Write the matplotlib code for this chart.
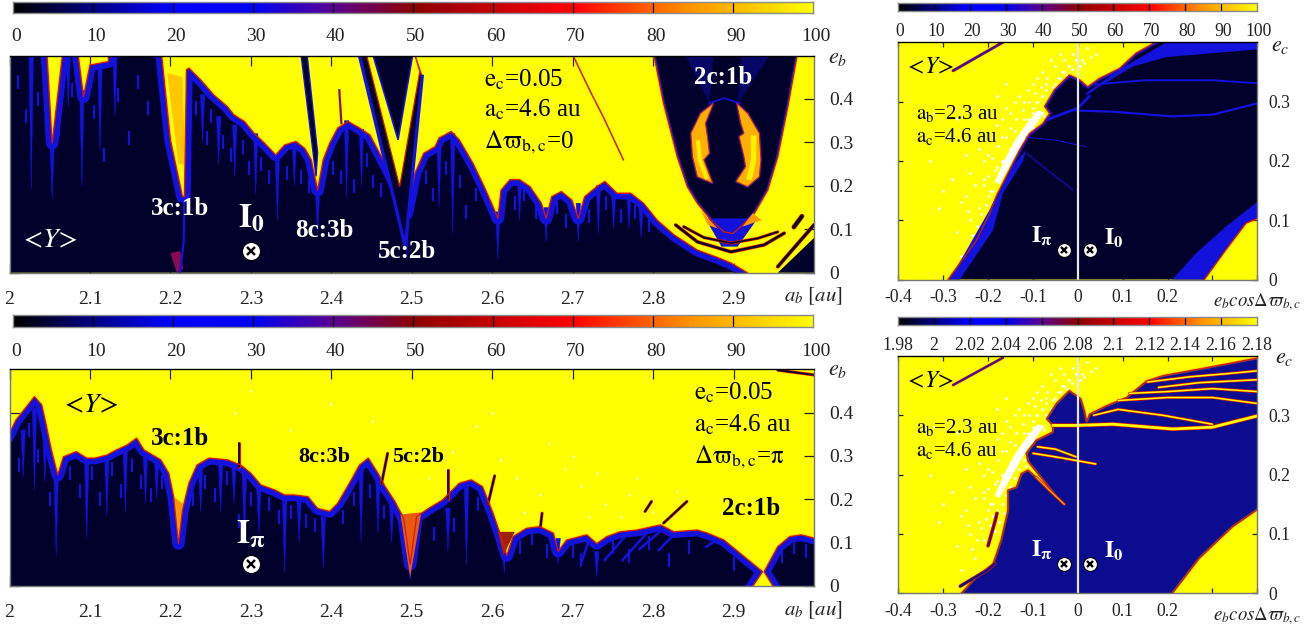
"""Stability maps of the <Y> indicator, two wide panels and two small ones."""
import matplotlib
matplotlib.use("Agg")
import matplotlib.pyplot as plt
import numpy as np
from matplotlib.colors import LinearSegmentedColormap
from matplotlib.transforms import ScaledTranslation

W, H = 1315, 627
NAVY = "#00002a"
BLUE = "#1212dc"
MIDBLUE = "#0c0c90"
RED = "#d81a00"
ORANGE = "#ff9a00"
YELLOW = "#ffff00"

plt.rcParams["font.family"] = ["Liberation Serif", "DejaVu Serif"]
plt.rcParams["mathtext.fontset"] = "stix"

CMAP_VALUES = [0, 10, 20, 30, 40, 50, 70, 85, 100]
CMAP_COLORS = ["#000000", "#000085", "#0000ff", "#0000f0", "#5a0090",
               "#8c0000", "#ff0000", "#ff9600", "#ffff00"]
CBAR_PCT = [0, 10, 20, 30, 40, 50, 60, 70, 80, 90, 100]
CBAR_D_LABELS = ["1.98", "2", "2.02", "2.04", "2.06", "2.08", "2.1", "2.12",
                 "2.14", "2.16", "2.18"]
A_TICKS = [2, 2.1, 2.2, 2.3, 2.4, 2.5, 2.6, 2.7, 2.8, 2.9]
EB_TICKS = [0, 0.1, 0.2, 0.3, 0.4]
ECOS_TICKS = [-0.4, -0.3, -0.2, -0.1, 0, 0.1, 0.2, 0.3, 0.4]
ECOS_LABELS = ["-0.4", "-0.3", "-0.2", "-0.1", "0", "0.1", "0.2", "", ""]
EC_TICKS = [0, 0.1, 0.2, 0.3]

# panel A, edge of the regular region
A_EDGE_A = [2, 2.046, 2.053, 2.067, 2.084, 2.092, 2.1, 2.123, 2.123, 2.188, 2.2, 2.215,
            2.2175, 2.22, 2.223, 2.2375, 2.254, 2.271, 2.279, 2.292, 2.304, 2.317, 2.331,
            2.342, 2.356, 2.367, 2.375, 2.383, 2.39, 2.398, 2.408, 2.421, 2.435, 2.448,
            2.46, 2.475, 2.494, 2.504, 2.515, 2.529, 2.534, 2.549, 2.559, 2.576, 2.59,
            2.601, 2.607, 2.611, 2.622, 2.634, 2.647, 2.661, 2.667, 2.674, 2.686, 2.699,
            2.707, 2.715, 2.73, 2.74, 2.755, 2.772, 2.788, 2.805, 2.826, 2.855, 2.88,
            2.897, 2.917]
A_EDGE_E = [0.52, 0.52, 0.298, 0.52, 0.52, 0.405, 0.478, 0.486, 0.52, 0.52, 0.306, 0.175,
            0.175, 0.467, 0.471, 0.444, 0.409, 0.382, 0.363, 0.348, 0.321, 0.298, 0.271,
            0.294, 0.302, 0.286, 0.26, 0.19, 0.26, 0.298, 0.333, 0.348, 0.333, 0.317,
            0.275, 0.221, 0.137, 0.229, 0.275, 0.29, 0.31, 0.325, 0.306, 0.252, 0.198,
            0.152, 0.125, 0.19, 0.214, 0.214, 0.198, 0.16, 0.125, 0.175, 0.187, 0.167,
            0.125, 0.175, 0.198, 0.21, 0.183, 0.183, 0.16, 0.121, 0.087, 0.052, 0.035,
            0.022, 0]
A_V_OUTER_A = [2.435, 2.492, 2.513, 2.504]
A_V_OUTER_E = [0.5, 0.06, 0.452, 0.5]
A_V_MID_A = [2.444, 2.485, 2.51, 2.504]
A_V_MID_E = [0.5, 0.198, 0.463, 0.5]
A_V_INNER_A = [2.452, 2.483, 2.501]
A_V_INNER_E = [0.5, 0.306, 0.5]
A_STRIP_A = [2.3625, 2.37, 2.383, 2.381]
A_STRIP_E = [0.5, 0.5, 0.276, 0.222]
A_U_A = [2.8, 2.813, 2.83, 2.8425, 2.855, 2.872, 2.888, 2.899, 2.909, 2.926, 2.9425,
         2.955, 2.9675, 2.98]
A_U_E = [0.51, 0.39, 0.267, 0.198, 0.16, 0.121, 0.094, 0.09, 0.106, 0.137, 0.19, 0.267,
         0.382, 0.51]
A_CRES_L_A = [2.875, 2.859, 2.847, 2.849, 2.855, 2.874, 2.863, 2.87, 2.8675, 2.865]
A_CRES_L_E = [0.39, 0.367, 0.321, 0.267, 0.221, 0.206, 0.26, 0.275, 0.313, 0.344]
A_CRES_R_A = [2.904, 2.9175, 2.932, 2.934, 2.932, 2.9175, 2.903, 2.915, 2.913, 2.907,
              2.913, 2.909]
A_CRES_R_E = [0.39, 0.367, 0.321, 0.26, 0.221, 0.198, 0.21, 0.244, 0.267, 0.313, 0.321,
              0.344]
A_ARC1_A = [2.828, 2.855, 2.897, 2.938, 2.963]
A_ARC1_E = [0.11, 0.071, 0.048, 0.064, 0.091]
A_ARC2_A = [2.838, 2.863, 2.897, 2.93, 2.955]
A_ARC2_E = [0.106, 0.081, 0.068, 0.079, 0.094]
A_STREAK_A = [2.701, 2.722, 2.738, 2.763]
A_STREAK_E = [0.498, 0.417, 0.359, 0.26]
A_SPIKE_A = [2.027, 2.053, 2.073, 2.09, 2.1125, 2.131, 2.24, 2.26, 2.28, 2.306, 2.333,
             2.354, 2.383, 2.419, 2.4375, 2.494, 2.534, 2.551, 2.607, 2.634, 2.667,
             2.707, 2.732, 2.751, 2.77, 2.785]
A_SPIKE_TOP = [0.5, 0.3, 0.5, 0.42, 0.48, 0.5, 0.41, 0.36, 0.34, 0.32, 0.27, 0.3, 0.19,
               0.35, 0.33, 0.14, 0.3, 0.32, 0.14, 0.21, 0.15, 0.16, 0.2, 0.18, 0.18, 0.15]
A_SPIKE_BOT = [0.19, 0.17, 0.38, 0.2, 0.28, 0.36, 0.3, 0.25, 0.22, 0.18, 0.12, 0.2, 0.09,
               0.17, 0.2, 0.03, 0.15, 0.09, 0.03, 0.12, 0.07, 0.07, 0.09, 0.1, 0.1, 0.08]
A_DASH_A = [2.01, 2.02, 2.035, 2.062, 2.078, 2.105, 2.118, 2.135, 2.148, 2.16, 2.172, 2.232,
            2.245, 2.25, 2.265, 2.275, 2.29, 2.298, 2.312, 2.322, 2.345, 2.362, 2.372,
            2.402, 2.412, 2.428, 2.444, 2.452, 2.462, 2.518, 2.526, 2.542, 2.56, 2.568,
            2.58, 2.628, 2.64, 2.655, 2.68, 2.692, 2.72, 2.742, 2.76, 2.778, 2.795]
A_DASH_E = [0.44, 0.36, 0.4, 0.33, 0.42, 0.37, 0.27, 0.41, 0.31, 0.44, 0.38, 0.38, 0.31,
            0.36, 0.3, 0.27, 0.29, 0.24, 0.25, 0.22, 0.23, 0.22, 0.2, 0.24, 0.22, 0.2,
            0.26, 0.21, 0.19, 0.22, 0.18, 0.24, 0.21, 0.14, 0.18, 0.16, 0.18, 0.14, 0.15,
            0.12, 0.13, 0.16, 0.13, 0.14, 0.11]

# panel C
C_EDGE_A = [2, 2.008, 2.023, 2.031, 2.04, 2.046, 2.052, 2.06, 2.067, 2.083, 2.096, 2.106,
            2.121, 2.133, 2.146, 2.158, 2.167, 2.188, 2.198, 2.204, 2.21, 2.215, 2.223,
            2.233, 2.248, 2.271, 2.2875, 2.3, 2.3125, 2.329, 2.342, 2.354, 2.371, 2.383,
            2.398, 2.408, 2.425, 2.435, 2.446, 2.458, 2.467, 2.479, 2.49, 2.498, 2.506,
            2.521, 2.538, 2.559, 2.574, 2.588, 2.601, 2.611, 2.618, 2.626, 2.6425, 2.659,
            2.676, 2.682, 2.6925, 2.7175, 2.73, 2.7425, 2.759, 2.78, 2.809, 2.826, 2.855,
            2.8675, 2.888, 2.913, 2.936, 2.924]
C_EDGE_E = [0.352, 0.383, 0.418, 0.437, 0.418, 0.368, 0.314, 0.256, 0.298, 0.31, 0.295,
            0.295, 0.302, 0.314, 0.325, 0.341, 0.314, 0.291, 0.26, 0.206, 0.098, 0.175,
            0.237, 0.279, 0.295, 0.291, 0.279, 0.26, 0.233, 0.222, 0.21, 0.21, 0.206,
            0.179, 0.172, 0.191, 0.245, 0.279, 0.295, 0.26, 0.229, 0.195, 0.156, 0.05,
            0.16, 0.179, 0.198, 0.237, 0.245, 0.229, 0.168, 0.114, 0.07, 0.114, 0.133,
            0.137, 0.122, 0.08, 0.106, 0.118, 0.098, 0.114, 0.125, 0.129, 0.141, 0.125,
            0.129, 0.122, 0.106, 0.068, 0.033, 0]
C_EDGE2_A = [2.949, 2.938, 2.955, 2.97, 2.984, 3.01]
C_EDGE2_E = [0, 0.033, 0.091, 0.114, 0.118, 0.106]
C_V_A = [2.486, 2.498, 2.512]
C_V_E = [0.165, 0.02, 0.17]
C_TIP_A = [2.204, 2.21, 2.216]
C_TIP_E = [0.206, 0.098, 0.19]
C_SPIKE_A = [2.017, 2.031, 2.044, 2.058, 2.096, 2.121, 2.144, 2.169, 2.183, 2.2375, 2.2625,
             2.279, 2.292, 2.31, 2.342, 2.36, 2.39, 2.437, 2.458, 2.475, 2.498, 2.545,
             2.568, 2.615, 2.682, 2.73]
C_SPIKE_TOP = [0.36, 0.41, 0.35, 0.25, 0.29, 0.3, 0.32, 0.3, 0.29, 0.27, 0.28, 0.28, 0.26,
               0.23, 0.2, 0.2, 0.16, 0.27, 0.24, 0.19, 0.05, 0.18, 0.23, 0.1, 0.11, 0.08]
C_SPIKE_BOT = [0.25, 0.22, 0.24, 0.07, 0.11, 0.16, 0.17, 0.19, 0.2, 0.17, 0.17, 0.19, 0.1,
               0.12, 0.03, 0.1, 0.04, 0.1, 0.12, 0.1, 0.015, 0.08, 0.05, 0.03, 0.05, 0.02]
C_DASH_A = [2.012, 2.024, 2.036, 2.05, 2.075, 2.088, 2.103, 2.112, 2.128, 2.138, 2.152, 2.163,
            2.176, 2.19, 2.228, 2.243, 2.255, 2.27, 2.285, 2.3, 2.322, 2.335, 2.35, 2.368,
            2.38, 2.415, 2.428, 2.448, 2.465, 2.528, 2.553, 2.582, 2.635, 2.65, 2.668,
            2.7, 2.71, 2.75, 2.77, 2.795, 2.82, 2.845, 2.9, 2.96, 2.975, 2.99]
C_DASH_E = [0.28, 0.36, 0.3, 0.2, 0.26, 0.22, 0.26, 0.2, 0.27, 0.22, 0.28, 0.24, 0.21,
            0.24, 0.2, 0.24, 0.21, 0.25, 0.15, 0.2, 0.19, 0.16, 0.17, 0.15, 0.14, 0.16,
            0.2, 0.22, 0.17, 0.12, 0.14, 0.19, 0.09, 0.11, 0.08, 0.08, 0.06, 0.09, 0.07,
            0.1, 0.06, 0.09, 0.05, 0.07, 0.09, 0.08]
C_FAN_A0 = [2.711, 2.74, 2.762, 2.783, 2.807, 2.866]
C_FAN_E0 = [0.055, 0.06, 0.06, 0.085, 0.083, 0.09]
C_FAN_A1 = [2.72, 2.77, 2.792, 2.808, 2.824, 2.878]
C_FAN_E1 = [0.105, 0.125, 0.122, 0.125, 0.115, 0.105]
C_STREAK_A0 = [2.285, 2.4625, 2.545, 2.595, 2.66, 2.79, 2.813, 2.955]
C_STREAK_E0 = [0.275, 0.237, 0.2, 0.191, 0.137, 0.172, 0.145, 0.498]
C_STREAK_A1 = [2.285, 2.47, 2.545, 2.603, 2.662, 2.798, 2.842, 3.0]
C_STREAK_E1 = [0.33, 0.306, 0.267, 0.254, 0.168, 0.195, 0.195, 0.487]
C_SPECK_A = [2.52, 2.55, 2.58, 2.61, 2.63, 2.66, 2.69, 2.71, 2.74, 2.77, 2.8, 2.83, 2.67, 2.7,
             2.73, 2.76, 2.64, 2.6, 2.45, 2.4, 2.35, 2.3, 2.28, 2.78, 2.72]
C_SPECK_E = [0.25, 0.31, 0.37, 0.29, 0.25, 0.21, 0.27, 0.23, 0.19, 0.21, 0.17, 0.22, 0.33,
             0.3, 0.26, 0.16, 0.17, 0.4, 0.38, 0.42, 0.36, 0.45, 0.4, 0.25, 0.16]

# panel B
B_EDGE_X = [-0.289, -0.226, -0.197, -0.182, -0.152, -0.13, -0.108, -0.078, -0.063, -0.074,
            -0.052, -0.019, 0.004, 0.022, 0.048, 0.093, 0.13, 0.197, 0.41, 0.41, 0.375,
            0.33, 0.282]
B_EDGE_Y = [0, 0.066, 0.111, 0.14, 0.185, 0.218, 0.246, 0.263, 0.28, 0.292, 0.32, 0.345,
            0.337, 0.325, 0.339, 0.356, 0.382, 0.41, 0.41, 0.106, 0.095, 0.05, 0]
B_BAND_R_X = [0.211, 0.263, 0.33, 0.4, 0.4, 0.375, 0.33, 0.282]
B_BAND_R_Y = [0, 0.044, 0.089, 0.131, 0.106, 0.095, 0.05, 0]
B_BAND_L_X = [-0.285, -0.197, -0.152, -0.115, -0.122, -0.167, -0.189, -0.263]
B_BAND_L_Y = [0, 0.117, 0.185, 0.218, 0.2, 0.145, 0.083, 0]
B_FAN_X = [0.019, 0.093, 0.197, 0.4, 0.4, 0.197, 0.122, 0.048, 0.019]
B_FAN_Y = [0.315, 0.354, 0.4, 0.4, 0.388, 0.375, 0.359, 0.325, 0.31]
B_LINE1_X = [-0.004, 0.078, 0.211, 0.3, 0.4]
B_LINE1_Y = [0.285, 0.283, 0.275, 0.278, 0.297]
B_LINE2_X = [0.04, 0.15, 0.3, 0.4]
B_LINE2_Y = [0.329, 0.336, 0.336, 0.331]
B_LINE3_X = [-0.07, 0.0, 0.026]
B_LINE3_Y = [0.269, 0.289, 0.309]
B_FAINT_X = [-0.115, -0.05, 0.019]
B_FAINT_Y = [0.24, 0.235, 0.224]
B_FAINT2_X = [-0.115, -0.011]
B_FAINT2_Y = [0.213, 0.151]
STREAK_X = [-0.278, -0.167]
STREAK_Y = [0.352, 0.4]
WHITE_X = [-0.175, -0.145, -0.115, -0.093, -0.075, -0.09, -0.115, -0.14, -0.165, -0.185]
WHITE_Y = [0.16, 0.2, 0.24, 0.262, 0.282, 0.285, 0.262, 0.235, 0.2, 0.165]
SPECK_X = [-0.33, -0.31, -0.29, -0.27, -0.28, -0.26, -0.25, -0.24, -0.23, -0.22, -0.21,
           -0.2, -0.19, -0.18, -0.17, -0.16, -0.15, -0.14, -0.13, -0.12, -0.11, -0.1,
           -0.09, -0.08, -0.07, -0.06, -0.05, -0.04, -0.03, -0.02, -0.01, 0.01, 0.02,
           -0.24, -0.22, -0.2, -0.18, -0.16, -0.14, -0.12, -0.1, -0.08, -0.06, -0.04,
           -0.25, -0.21, -0.19, -0.17, -0.15, -0.13, -0.11, -0.09, -0.07, -0.05, -0.03,
           -0.23, -0.21, -0.27, -0.2, -0.26, -0.18, -0.16, -0.3, -0.32,
           -0.215, -0.205, -0.195, -0.19, -0.185, -0.18, -0.175, -0.17, -0.165, -0.16,
           -0.155, -0.15, -0.145, -0.14, -0.135, -0.13, -0.125, -0.12, -0.115, -0.11,
           -0.105, -0.1, -0.095, -0.09, -0.085, -0.08, -0.075, -0.07, -0.065, -0.06,
           -0.21, -0.2, -0.195, -0.185, -0.175, -0.17, -0.16, -0.15, -0.14, -0.13,
           -0.12, -0.11, -0.1, -0.09, -0.08, -0.07, -0.055, -0.045, -0.035, -0.025,
           -0.02, -0.012, -0.005, 0.006, 0.014, 0.03, 0.04, -0.225, -0.235, -0.245,
           -0.192, -0.178, -0.168, -0.152, -0.138, -0.122, -0.108, -0.095, -0.083, -0.068]
SPECK_Y = [0.2, 0.12, 0.24, 0.08, 0.17, 0.13, 0.21, 0.1, 0.16, 0.12, 0.2, 0.14, 0.24,
           0.19, 0.27, 0.24, 0.28, 0.3, 0.31, 0.3, 0.32, 0.33, 0.34, 0.35, 0.33, 0.37,
           0.36, 0.38, 0.37, 0.36, 0.38, 0.37, 0.39, 0.18, 0.22, 0.21, 0.26, 0.29, 0.25,
           0.27, 0.28, 0.31, 0.31, 0.34, 0.14, 0.17, 0.15, 0.2, 0.22, 0.24, 0.26, 0.3,
           0.3, 0.33, 0.35, 0.06, 0.09, 0.27, 0.28, 0.04, 0.31, 0.33, 0.15, 0.28,
           0.11, 0.125, 0.115, 0.13, 0.105, 0.14, 0.12, 0.15, 0.135, 0.165, 0.145,
           0.18, 0.165, 0.195, 0.18, 0.21, 0.2, 0.225, 0.215, 0.24, 0.23, 0.255, 0.245,
           0.27, 0.26, 0.28, 0.275, 0.295, 0.29, 0.31, 0.16, 0.175, 0.15, 0.185, 0.17,
           0.2, 0.19, 0.215, 0.225, 0.24, 0.25, 0.27, 0.29, 0.3, 0.31, 0.32, 0.325,
           0.34, 0.35, 0.345, 0.36, 0.355, 0.37, 0.36, 0.365, 0.375, 0.38, 0.09, 0.075,
           0.115, 0.205, 0.225, 0.24, 0.255, 0.27, 0.285, 0.3, 0.315, 0.325, 0.34]

# panel D
D_EDGE_X = [-0.26, -0.226, -0.189, -0.171, -0.156, -0.156, -0.137, -0.126, -0.111, -0.093,
            -0.048, -0.111, -0.115, -0.093, -0.056, -0.056, -0.07, -0.048, -0.019, 0.007,
            0.015, 0.02, 0.026, 0.063, 0.108, 0.153, 0.19, 0.27, 0.41, 0.41, 0.345, 0.271,
            0.211]
D_EDGE_Y = [0, 0.028, 0.05, 0.09, 0.14, 0.174, 0.179, 0.202, 0.208, 0.196, 0.163, 0.222,
            0.236, 0.258, 0.272, 0.283, 0.294, 0.32, 0.342, 0.328, 0.308, 0.29, 0.302,
            0.316, 0.33, 0.358, 0.367, 0.378, 0.398, 0.146, 0.112, 0.059, 0]
D_BAND_X = [-0.056, -0.004, 0.078, 0.211, 0.3, 0.4]
D_BAND_Y = [0.283, 0.283, 0.285, 0.277, 0.28, 0.299]
D_RIB_X = [[0.035, 0.09, 0.19, 0.3], [0.09, 0.2, 0.3, 0.4], [0.115, 0.2, 0.3, 0.4],
           [0.155, 0.25, 0.33, 0.4], [-0.09, -0.05, -0.004], [-0.1, -0.05, 0.04],
           [0.18, 0.27, 0.4]]
D_RIB_Y = [[0.3, 0.31, 0.3, 0.285], [0.325, 0.33, 0.33, 0.32], [0.337, 0.34, 0.345, 0.34],
           [0.356, 0.365, 0.37, 0.375], [0.247, 0.243, 0.23], [0.236, 0.23, 0.218],
           [0.347, 0.355, 0.36]]
D_TAIL_X = [-0.093, -0.065, -0.03]
D_TAIL_Y = [0.196, 0.175, 0.15]
D_ISLAND_X = [-0.2, -0.185, -0.18]
D_ISLAND_Y = [0.08, 0.12, 0.135]
D_LOW_X = [-0.262, -0.2, -0.185]
D_LOW_Y = [0.012, 0.04, 0.05]


def add_axes(left, top, right, bottom):
    return fig.add_axes([left / W, 1 - bottom / H, (right - left) / W, (bottom - top) / H])


def region(ax, xs, ys, cx, cy, color=NAVY, band=9):
    poly = ax.fill(xs + cx, ys + cy, color=color, lw=0, zorder=2)[0]
    ax.plot(xs, ys, color=ORANGE, lw=2.0, alpha=0.4, zorder=2.5, solid_joinstyle="round")
    if band:
        line = ax.plot(xs, ys, color=BLUE, lw=band, zorder=3, solid_joinstyle="round")[0]
        line.set_clip_path(poly)
    ax.plot(xs, ys, color=RED, lw=0.9, zorder=4, solid_joinstyle="round")


def spikes(ax, a, top, bot, width=0.0028):
    for x, t, b in zip(a, top, bot):
        ax.fill([x - width, x + width, x], [t, t, b], color=BLUE, lw=0.3, zorder=3.2)


def dashes(ax, a, e, length=0.016):
    ax.vlines(a, np.array(e) - length, np.array(e) + length, color=BLUE, lw=1.5, zorder=3.1)


def rib(ax, xs, ys, color, lw=1.8, under=RED, z=5):
    ax.plot(xs, ys, color=under, lw=lw + 1.0, zorder=z, solid_capstyle="round")
    ax.plot(xs, ys, color=color, lw=lw, zorder=z + 0.1, solid_capstyle="round")


def cross(ax, x, y, size=13):
    ax.plot([x], [y], "o", ms=size, mfc="white", mec="black", mew=0.8, zorder=9)
    ax.plot([x], [y], "x", ms=size * 0.48, mec="black", mew=1.7, zorder=10)


def colorbar(left, top, right, bottom, labels, fs, pad, shift):
    ax = add_axes(left, top, right, bottom)
    ax.imshow(np.linspace(0, 100, 512)[None, :], aspect="auto", cmap=CMAP,
              extent=[0, 100, 0, 1], vmin=0, vmax=100)
    ax.vlines(CBAR_PCT[1:-1], 0, 1, color="black", lw=0.9)
    ax.set_xlim(0, 100)
    ax.set_yticks([])
    ax.set_xticks(CBAR_PCT)
    ax.set_xticklabels(labels, fontsize=fs)
    ax.tick_params(axis="x", length=0, pad=pad, colors="#222222")
    offset = ScaledTranslation(shift / 100, 0, fig.dpi_scale_trans)
    for lab in ax.get_xticklabels():
        lab.set_transform(lab.get_transform() + offset)
    for sp in ax.spines.values():
        sp.set_color("#8a8a8a")
        sp.set_linewidth(1.0)


def frame(ax, xlim, ylim, xticks, xlabels, yticks, fs, length, xpad, ypad):
    ax.set_facecolor(YELLOW)
    ax.set_xlim(*xlim)
    ax.set_ylim(*ylim)
    ax.set_xticks(xticks)
    ax.set_xticklabels(xlabels, fontsize=fs)
    ax.set_yticks(yticks)
    ax.set_yticklabels([f"{v:g}" for v in yticks], fontsize=fs)
    ax.tick_params(axis="both", direction="in", length=length, width=0.9, colors="#222222",
                   top=True, right=True, labelright=True, labelleft=False, zorder=20)
    ax.tick_params(axis="x", pad=xpad)
    ax.tick_params(axis="y", pad=ypad)
    for name, sp in ax.spines.items():
        sp.set_color("black" if name == "top" else "#777777")
        sp.set_linewidth(1.0)
        sp.set_zorder(20)


CMAP = LinearSegmentedColormap.from_list(
    "yorb", [(v / 100, c) for v, c in zip(CMAP_VALUES, CMAP_COLORS)])

fig = plt.figure(figsize=(W / 100, H / 100), dpi=100)

pct_labels = [str(v) for v in CBAR_PCT]
a_labels = [f"{v:g}" for v in A_TICKS]
colorbar(12.7, 2, 813, 12.7, pct_labels, 14, 11, 3)
colorbar(12.7, 315.3, 813, 326.7, pct_labels, 14, 11.5, 3)
colorbar(898, 3, 1257, 11, pct_labels, 12.7, 8.6, 2)
colorbar(898, 316.7, 1257, 325, CBAR_D_LABELS, 12.7, 9, 0)

# panel A ---------------------------------------------------------------
ax = add_axes(9.5, 55.5, 814, 272.7)
frame(ax, (2, 3), (0, 0.5), A_TICKS, a_labels, EB_TICKS, 14, 7, 13, 11)
region(ax, A_EDGE_A, A_EDGE_E, [2], [0])
spikes(ax, A_SPIKE_A, A_SPIKE_TOP, A_SPIKE_BOT)
dashes(ax, A_DASH_A, A_DASH_E)
ax.fill([2.196, 2.215, 2.218, 2.21], [0.46, 0.45, 0.25, 0.25], color=ORANGE, alpha=0.55, lw=0, zorder=2)
ax.fill([2.2, 2.212, 2.216, 2.208], [0.045, 0.05, 0.01, 0.0], color="#8a0a50", lw=0, zorder=3)
ax.plot([2.2175, 2.2165, 2.212], [0.175, 0.07, 0.0], color=BLUE, lw=1.6, zorder=3)
ax.plot([2.41, 2.4125], [0.42, 0.344], color="#8a1020", lw=1.6, zorder=3)
ax.fill(A_STRIP_A, A_STRIP_E, color=NAVY, ec=BLUE, lw=1.0, zorder=4)
ax.fill(A_V_OUTER_A, A_V_OUTER_E, color=NAVY, ec=RED, lw=0.9, zorder=4)
ax.plot(A_V_OUTER_A[:3], A_V_OUTER_E[:3], color=BLUE, lw=2.4, zorder=4.1)
ax.fill(A_V_MID_A, A_V_MID_E, color=YELLOW, ec=RED, lw=0.9, zorder=4.2)
ax.fill(A_V_INNER_A, A_V_INNER_E, color=NAVY, ec=BLUE, lw=1.2, zorder=4.3)
# the 2c:1b trough
region(ax, A_U_A, A_U_E, [], [], band=2.5)
ax.fill([2.84, 2.875, 2.87], [0.5, 0.5, 0.39], color=BLUE, alpha=0.35, lw=0, zorder=4)
ax.fill([2.91, 2.945, 2.905], [0.5, 0.5, 0.39], color=BLUE, alpha=0.35, lw=0, zorder=4)
ax.plot([2.87, 2.888, 2.908], [0.39, 0.402, 0.39], color=BLUE, lw=1.2, zorder=4)
for xs, ys in [(A_CRES_L_A, A_CRES_L_E), (A_CRES_R_A, A_CRES_R_E)]:
    ax.fill(xs, ys, color="#ffb000", ec=BLUE, lw=1.6, zorder=4.4)
    ax.fill(xs, ys, color="#ffb000", ec=RED, lw=0.7, zorder=4.5)
ax.plot([2.856, 2.858, 2.866], [0.3, 0.26, 0.22], color=YELLOW, lw=3, alpha=0.8, zorder=4.6)
ax.plot([2.925, 2.925, 2.92], [0.31, 0.26, 0.22], color=YELLOW, lw=4, alpha=0.8, zorder=4.6)
ax.fill([2.865, 2.93, 2.905, 2.885], [0.125, 0.125, 0.06, 0.06], color=BLUE, lw=0, zorder=3.5)
ax.fill([2.859, 2.88, 2.868], [0.144, 0.102, 0.11], color=ORANGE, lw=0, zorder=4.6)
ax.fill([2.911, 2.924, 2.935], [0.106, 0.137, 0.121], color=ORANGE, lw=0, zorder=4.6)
rib(ax, A_ARC1_A, A_ARC1_E, NAVY, lw=1.6)
rib(ax, A_ARC2_A, A_ARC2_E, NAVY, lw=1.2)
ax.fill([2.955, 3, 3], [0, 0.08, 0], color=NAVY, lw=0, zorder=3)
rib(ax, [2.955, 3], [0.014, 0.11], NAVY, lw=1.8)
rib(ax, [2.975, 2.985], [0.105, 0.13], NAVY, lw=2.5)
ax.plot(A_STREAK_A, A_STREAK_E, color="#c83010", lw=1.2, zorder=3)
white = dict(color="white", ha="center", va="center", fontweight="bold", zorder=12)
ax.text(2.2125, 0.148, "3c:1b", fontsize=18, **white)
ax.text(2.391, 0.098, "8c:3b", fontsize=18, **white)
ax.text(2.494, 0.048, "5c:2b", fontsize=18, **white)
ax.text(2.887, 0.45, "2c:1b", fontsize=18, **white)
ax.text(2.3, 0.125, r"$\mathbf{I_0}$", fontsize=24, color="white", ha="center", va="center", zorder=12)
ax.text(2.049, 0.074, r"$<\!Y\!>$", fontsize=20, color="white", ha="center", va="center", zorder=12)
ax.text(2.59, 0.444, r"$\mathrm{e_c}$=0.05", fontsize=18, va="center", zorder=12)
ax.text(2.59, 0.375, r"$\mathrm{a_c}$=4.6 au", fontsize=18, va="center", zorder=12)
ax.text(2.59, 0.30, r"$\mathrm{\Delta\varpi_{b,c}}$=0", fontsize=18, va="center", zorder=12)
cross(ax, 2.3, 0.05)

# panel C ---------------------------------------------------------------
ax = add_axes(9.5, 369.3, 814, 586)
frame(ax, (2, 3), (0, 0.5), A_TICKS, a_labels, EB_TICKS, 14, 7, 13, 11)
ax.scatter(C_SPECK_A, C_SPECK_E, s=2.5, color="white", lw=0, zorder=1.6)
region(ax, C_EDGE_A, C_EDGE_E, [2.924, 2], [-0.01, -0.01])
region(ax, C_EDGE2_A, C_EDGE2_E, [3.01], [0])
spikes(ax, C_SPIKE_A, C_SPIKE_TOP, C_SPIKE_BOT)
dashes(ax, C_DASH_A, C_DASH_E)
ax.fill(C_V_A, C_V_E, color="#e85a10", lw=0, zorder=3.4)
ax.fill(C_TIP_A, C_TIP_E, color=ORANGE, lw=0, zorder=3.4)
ax.fill([2.607, 2.614, 2.628], [0.125, 0.07, 0.125], color="#a02010", lw=0, zorder=3.4)
for a0, e0, a1, e1 in zip(C_FAN_A0, C_FAN_E0, C_FAN_A1, C_FAN_E1):
    ax.plot([a0, a1], [e0, e1], color=BLUE, lw=1.8, zorder=3.3)
for a0, e0, a1, e1 in zip(C_STREAK_A0, C_STREAK_E0, C_STREAK_A1, C_STREAK_E1):
    rib(ax, [a0, a1], [e0, e1], NAVY, lw=1.2, z=3.6)
black = dict(color="black", ha="center", va="center", fontweight="bold", zorder=12)
ax.text(2.2125, 0.341, "3c:1b", fontsize=18, **black)
ax.text(2.391, 0.298, "8c:3b", fontsize=16, **black)
ax.text(2.508, 0.298, "5c:2b", fontsize=16, **black)
ax.text(2.922, 0.178, "2c:1b", fontsize=18, **black)
ax.text(2.3, 0.12, r"$\mathbf{I_\pi}$", fontsize=24, color="white", ha="center", va="center", zorder=12)
ax.text(2.099, 0.415, r"$<\!Y\!>$", fontsize=20, ha="center", va="center", zorder=12)
ax.text(2.851, 0.445, r"$\mathrm{e_c}$=0.05", fontsize=18, va="center", zorder=12)
ax.text(2.851, 0.372, r"$\mathrm{a_c}$=4.6 au", fontsize=18, va="center", zorder=12)
ax.text(2.851, 0.298, r"$\mathrm{\Delta\varpi_{b,c}}$=$\mathrm{\pi}$", fontsize=18, va="center", zorder=12)
cross(ax, 2.3, 0.05)

# panel B ---------------------------------------------------------------
ax = add_axes(898.3, 42.3, 1257.3, 279.5)
frame(ax, (-0.4, 0.4), (0, 0.4), ECOS_TICKS, ECOS_LABELS, EC_TICKS, 12.7, 3.6, 7, 8)
ax.fill(WHITE_X, WHITE_Y, color="white", lw=0, zorder=1.5)
ax.scatter(SPECK_X, SPECK_Y, s=4, color="white", lw=0, zorder=1.6)
region(ax, B_EDGE_X, B_EDGE_Y, [], [], band=3)
ax.fill(B_BAND_R_X, B_BAND_R_Y, color=BLUE, lw=0, zorder=3.2)
ax.fill(B_BAND_L_X, B_BAND_L_Y, color=BLUE, lw=0, zorder=3.2)
ax.fill(B_FAN_X, B_FAN_Y, color=BLUE, lw=0, zorder=3.2)
ax.plot(B_LINE1_X, B_LINE1_Y, color=BLUE, lw=1.6, zorder=3.2)
ax.plot(B_LINE2_X, B_LINE2_Y, color=BLUE, lw=1.4, zorder=3.2)
ax.plot(B_LINE3_X, B_LINE3_Y, color=BLUE, lw=2.0, zorder=3.2)
ax.plot(B_FAINT_X, B_FAINT_Y, color=BLUE, lw=0.7, zorder=3.2)
ax.plot(B_FAINT2_X, B_FAINT2_Y, color=BLUE, lw=0.7, zorder=3.2)
rib(ax, STREAK_X, STREAK_Y, BLUE, lw=1.2)
ax.axvline(0, color="#e8e8e8", lw=1.6, zorder=6)
ax.text(-0.33, 0.356, r"$<\!Y\!>$", fontsize=17, ha="center", va="center", zorder=12)
ax.text(-0.36, 0.28, r"$\mathrm{a_b}$=2.3 au", fontsize=15, va="center", zorder=12)
ax.text(-0.36, 0.241, r"$\mathrm{a_c}$=4.6 au", fontsize=15, va="center", zorder=12)
ax.text(-0.08, 0.072, r"$\mathbf{I_\pi}$", fontsize=17, color="white", ha="center", va="center", zorder=12)
ax.text(0.079, 0.069, r"$\mathbf{I_0}$", fontsize=17, color="white", ha="center", va="center", zorder=12)
cross(ax, -0.031, 0.05, 10)
cross(ax, 0.028, 0.05, 10)

# panel D ---------------------------------------------------------------
ax = add_axes(898.3, 356, 1257.3, 593.3)
frame(ax, (-0.4, 0.4), (0, 0.4), ECOS_TICKS, ECOS_LABELS, EC_TICKS, 12.7, 3.6, 7, 8)
ax.fill(WHITE_X, WHITE_Y, color="white", lw=0, zorder=1.5)
ax.scatter(SPECK_X, SPECK_Y, s=4, color="white", lw=0, zorder=1.6)
region(ax, D_EDGE_X, D_EDGE_Y, [], [], color=MIDBLUE, band=0)
rib(ax, D_BAND_X, D_BAND_Y, YELLOW, lw=2.0)
for xs, ys in zip(D_RIB_X, D_RIB_Y):
    rib(ax, xs, ys, YELLOW, lw=1.1)
rib(ax, D_TAIL_X, D_TAIL_Y, ORANGE, lw=1.0)
rib(ax, D_ISLAND_X, D_ISLAND_Y, "#600060", lw=1.6)
rib(ax, D_LOW_X, D_LOW_Y, MIDBLUE, lw=1.6)
rib(ax, STREAK_X, [0.351, 0.397], BLUE, lw=1.0)
ax.axvline(0, color="#e8e8e8", lw=1.6, zorder=6)
ax.text(-0.33, 0.356, r"$<\!Y\!>$", fontsize=17, ha="center", va="center", zorder=12)
ax.text(-0.36, 0.28, r"$\mathrm{a_b}$=2.3 au", fontsize=15, va="center", zorder=12)
ax.text(-0.36, 0.241, r"$\mathrm{a_c}$=4.6 au", fontsize=15, va="center", zorder=12)
ax.text(-0.08, 0.073, r"$\mathbf{I_\pi}$", fontsize=17, color="white", ha="center", va="center", zorder=12)
ax.text(0.079, 0.07, r"$\mathbf{I_0}$", fontsize=17, color="white", ha="center", va="center", zorder=12)
cross(ax, -0.031, 0.05, 10)
cross(ax, 0.028, 0.05, 10)

# axis names sitting outside the frames
for x, y, s in [(838, 59, r"$e_b$"), (838, 371, r"$e_b$")]:
    fig.text(x / W, 1 - y / H, s, fontsize=16, ha="center", va="center", color="#222222")
for x, y in [(813, 296), (813, 610)]:
    fig.text(x / W, 1 - y / H, r"$a_b\ [au]$", fontsize=15, ha="center", va="center", color="#222222")
for x, y in [(1280, 46), (1284, 359)]:
    fig.text(x / W, 1 - y / H, r"$e_c$", fontsize=16, ha="center", va="center", color="#222222")
for x, y in [(1257, 302), (1257, 616)]:
    fig.text(x / W, 1 - y / H, r"$e_b cos\Delta\varpi_{b,c}$", fontsize=13.5, ha="center", va="center", color="#222222")

fig.savefig("out.png", dpi=100)
